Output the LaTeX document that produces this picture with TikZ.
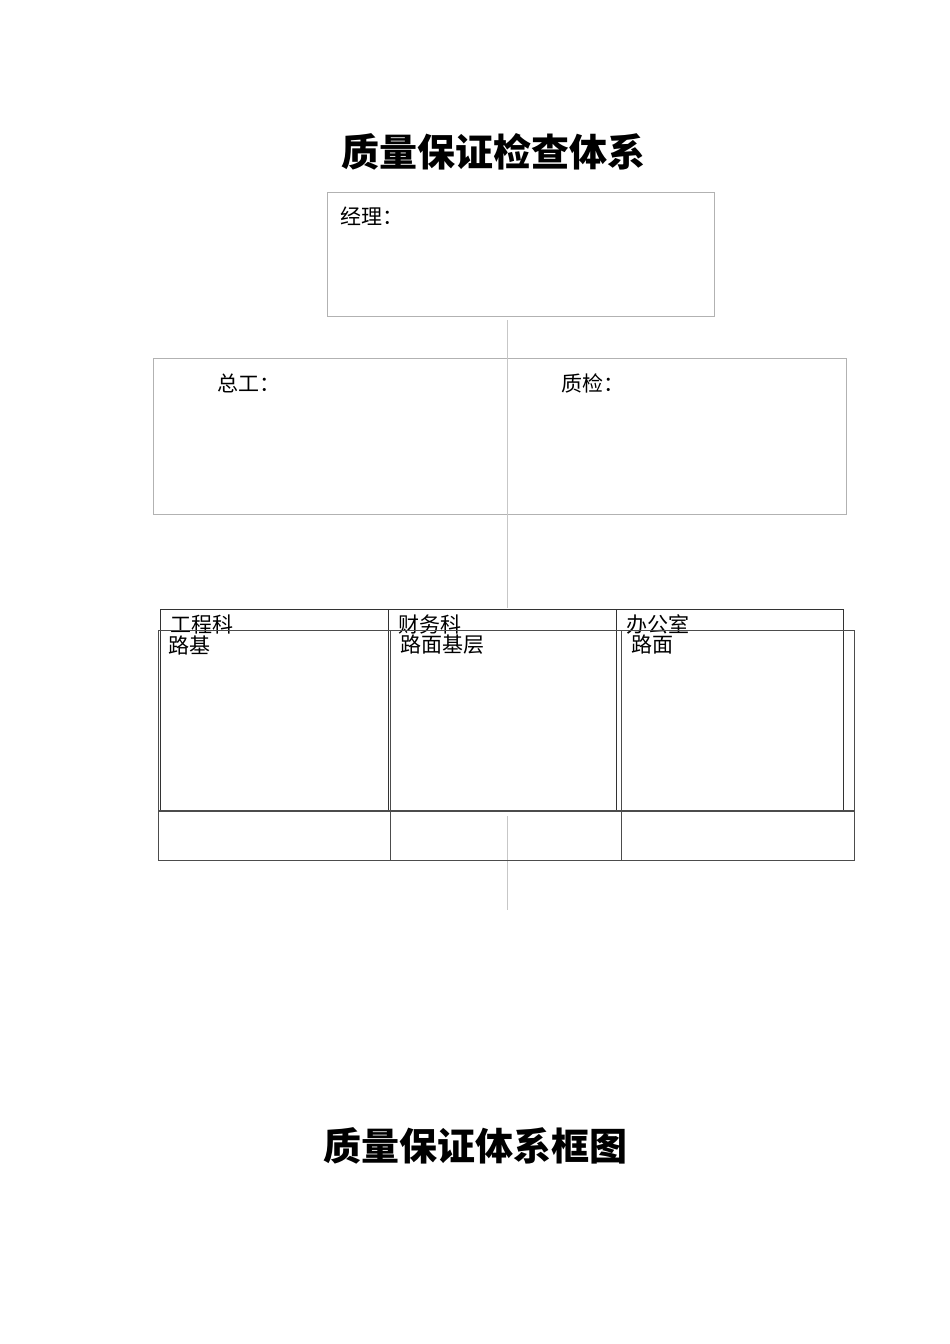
\documentclass[tikz,border=0pt]{standalone}
\usepackage{fontspec}
\newfontfamily\cjk{Noto Sans CJK SC}

\tikzset{
  lightbox/.style={draw=black!30, line width=0.8pt, inner sep=0pt, anchor=north west},
  cellbox/.style={draw=black!80, line width=0.9pt, inner sep=0pt, anchor=north west},
  spine/.style={draw=black!22, line width=0.8pt},
  boxtext/.style={anchor=west, inner sep=0pt, font=\cjk\fontsize{21}{21}\selectfont},
  heading/.style={inner sep=0pt, font=\cjk\bfseries\fontsize{38}{38}\selectfont},
}

\begin{document}
\begin{tikzpicture}[x=1pt,y=-1pt]
\useasboundingbox (0,0) rectangle (950,1344);

\node[heading] (title) at (493,152) {质量保证检查体系};

% manager
\node[lightbox, minimum width=387pt, minimum height=124pt] (mgr) at (327,192) {};
\node[boxtext] (mgr-label) at ([xshift=13pt,yshift=-24pt]mgr.north west) {经理：};

% chief engineer / quality check
\node[lightbox, minimum width=354pt, minimum height=156pt] (chief) at (153,358) {};
\node[lightbox, minimum width=339pt, minimum height=156pt] (qc) at (507,358) {};
\node[boxtext] (chief-label) at ([xshift=64pt,yshift=-25pt]chief.north west) {总工：};
\node[boxtext] (qc-label) at ([xshift=54pt,yshift=-25pt]qc.north west) {质检：};

\coordinate (spine-a) at (507,320);
\coordinate (spine-b) at (507,608);
\coordinate (spine-c) at (507,816);
\coordinate (spine-d) at (507,910);
\draw[spine] (spine-a) -- (spine-b);
\draw[spine] (spine-c) -- (spine-d);

% departments
\foreach \n/\x/\w/\t in {1/160/228/工程科,2/388/228/财务科,3/616/227/办公室} {
    \node[cellbox, minimum width=\w pt, minimum height=201pt] (dept-\n) at (\x,609) {};
    \node[boxtext] (dept-\n-label) at ([xshift=10pt,yshift=-15pt]dept-\n.north west) {\t};
}

% works
\foreach \n/\x/\w/\t in {1/158/232/路基,2/390/231/路面基层,3/621/233/路面} {
    \node[cellbox, draw=black!70, minimum width=\w pt, minimum height=180pt] (road-\n) at (\x,630) {};
    \node[cellbox, draw=black!70, minimum width=\w pt, minimum height=49pt] (base-\n) at (road-\n.south west) {};
    \node[boxtext] (road-\n-label) at ([xshift=10pt,yshift=-15pt]road-\n.north west) {\t};
}

\node[heading] (caption) at (475,1146) {质量保证体系框图};
\end{tikzpicture}
\end{document}
